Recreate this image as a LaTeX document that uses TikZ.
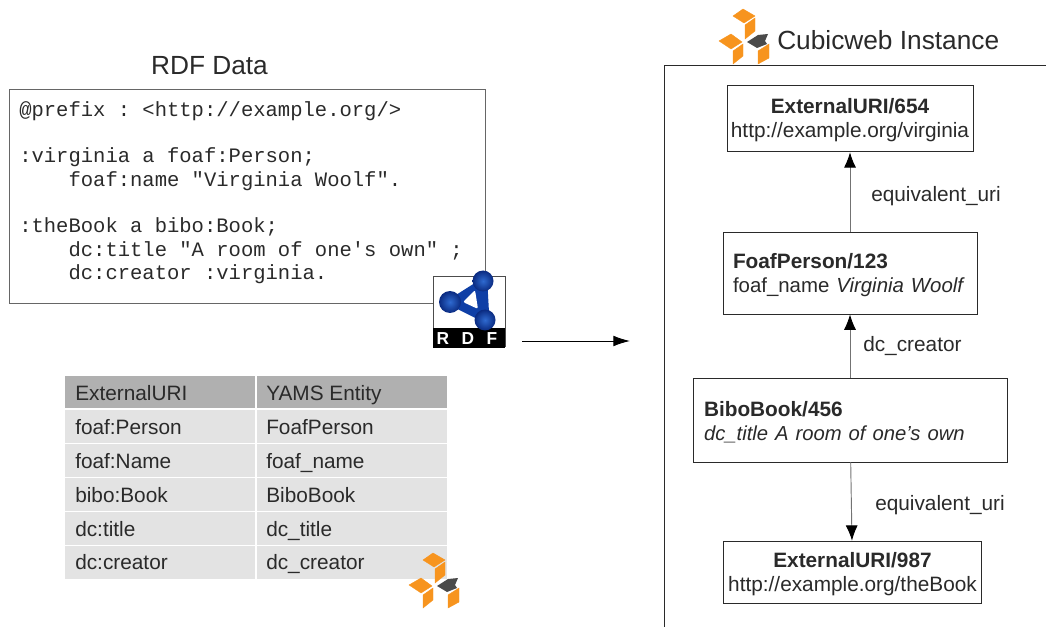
\documentclass[tikz,border=0pt]{standalone}
\usepackage{fontspec}
\setmainfont{Liberation Sans}
\setmonofont{Liberation Mono}
\usetikzlibrary{arrows.meta}
\definecolor{ink}{HTML}{2A2A2A}
\definecolor{cwo}{HTML}{F7941E}
\definecolor{cwd}{HTML}{4A4A4A}
\definecolor{rdfb}{HTML}{0F3FA6}
\definecolor{rdfl}{HTML}{2F6AD0}
\definecolor{rdfk}{HTML}{0A2A80}
\newcommand{\toprule}{\rule{0pt}{14pt}}
\tikzset{
  body/.style={font=\fontsize{15.6}{18}\selectfont,text=ink},
  title/.style={font=\fontsize{19.7}{22}\selectfont,text=ink},
  entity/.style={draw=ink,line width=0.65pt,fill=white,inner sep=0pt,body,align=center},
  entityl/.style={entity,align=left},
  rel/.style={draw=black!55,line width=0.7pt,-{Latex[length=11.5pt,width=9pt,black]}},
  cell/.style={anchor=north west,inner sep=0pt},
  hdr/.style={cell,fill=black!31},
  row/.style={cell,fill=black!11},
  celltext/.style={body,anchor=base west,inner sep=0pt},
  cube/.style={fill=cwo,draw=cwo,line width=0.3pt},
  cwlogo/.pic={
    \path[cube] (0,0)--(12,7)--(1,14)--(-10,7)--cycle;
    \path[cube] (12,9)--(12,22)--(2,30)--(2,16)--cycle;
    \path[cube] (-12,25)--(-1,33)--(-12,40)--(-24,32)--cycle;
    \path[cube] (0,35)--(0,47)--(-10,55)--(-10,42)--cycle;
    \path[cube] (26,35)--(26,49)--(15,55)--(15,42)--cycle;
    \fill[cwd] (4,33)--(15,26)--(25,25)--(22,32)--(24,35)--(14,39)--cycle;
  }
}
\begin{document}
\begin{tikzpicture}[x=0.75pt,y=-0.75pt]
\useasboundingbox (0,0) rectangle (1046,627);

% left: RDF data
\node[title] (rdftitle) at (209.5,65.5) {RDF Data};
\node[draw=black!60,line width=0.65pt,minimum width=357pt,minimum height=160pt,inner sep=0pt] (code) at (247,196.5) {};
\node[anchor=north west,inner sep=0pt,align=left,text=ink,font=\ttfamily\fontsize{15.4}{17.5}\selectfont] (codetext) at (19,101) {%
@prefix : <http://example.org/>\\
\strut\\
:virginia a foaf:Person;\\
\hspace*{2.4em}foaf:name "Virginia Woolf".\\
\strut\\
:theBook a bibo:Book;\\
\hspace*{2.4em}dc:title "A room of one's own" ;\\
\hspace*{2.4em}dc:creator :virginia.};

% RDF logo
\node[draw=black!70,fill=white,line width=0.7pt,minimum width=54pt,minimum height=53pt,inner sep=0pt] (rdflogo) at (469,311.5) {};
\fill[black] (433,328) rectangle (505,347.5);
\filldraw[rdfb,line width=6.5pt,line join=round] (483,283)--(453,302)--(485,318)--cycle;
\fill[white,rounded corners=1.5pt] (463,302)--(475,290)--(478,309)--cycle;
\shade[inner color=rdfl,outer color=rdfk] (483,281) circle[radius=10.5];
\shade[inner color=rdfl,outer color=rdfk] (450,302) circle[radius=11];
\shade[inner color=rdfl,outer color=rdfk] (485,320) circle[radius=10.5];
\node[font=\bfseries\fontsize{13}{13}\selectfont,text=white,inner sep=0pt] (rdfr) at (443,339) {R};
\node[font=\bfseries\fontsize{13}{13}\selectfont,text=white,inner sep=0pt] (rdfd) at (468,339) {D};
\node[font=\bfseries\fontsize{13}{13}\selectfont,text=white,inner sep=0pt] (rdff) at (492,339) {F};

% main arrow
\coordinate (arrowstart) at (522,341);
\coordinate (arrowend) at (630,341);
\draw[black,line width=0.65pt,-{Latex[length=12.5pt,width=8pt]}] (arrowstart) -- (arrowend);

% table
\node[hdr,minimum width=142.5pt,minimum height=24pt] (h1) at (65,376) {};
\node[hdr,minimum width=142.5pt,minimum height=24pt] (h2) at (257,376) {};
\foreach \y/\a/\b in {410/r1a/r1b,444/r2a/r2b,478/r3a/r3b,512/r4a/r4b,546/r5a/r5b}{
  \node[row,minimum width=142.5pt,minimum height=24.4pt] (\a) at (65,\y) {};
  \node[row,minimum width=142.5pt,minimum height=24.4pt] (\b) at (257,\y) {};
}
\foreach \y/\a/\b/\n in {400/ExternalURI/YAMS Entity/ht,434/foaf:Person/FoafPerson/t1,468/foaf:Name/foaf\_name/t2,502/bibo:Book/BiboBook/t3,536/dc:title/dc\_title/t4,569.5/dc:creator/dc\_creator/t5}{
  \node[celltext] (\n a) at (75,\y) {\a};
  \node[celltext] (\n b) at (266,\y) {\b};
}
\pic at (433,553) {cwlogo};

% right: instance
\pic at (743,9) {cwlogo};
\node[title,anchor=west,inner sep=0pt] (insttitle) at (777,40) {Cubicweb Instance};
\coordinate (instbl) at (664,627);
\coordinate (insttl) at (664,65);
\coordinate (insttr) at (1046,65);
\draw[ink,line width=0.65pt] (instbl) -- (insttl) -- (insttr);

\node[entity,minimum width=184.5pt,minimum height=50pt] (uria) at (850,118.5) {\toprule\textbf{ExternalURI/654}\\http://example.org/virginia};
\node[entityl,minimum width=190.5pt,minimum height=61.5pt,text width=175.5pt] (foaf) at (850,273) {\toprule\textbf{FoafPerson/123}\\{\fontsize{15.3}{18}\selectfont foaf\_name \textit{Virginia Woolf}}};
\node[entityl,minimum width=235.5pt,minimum height=63pt,text width=219pt] (bibo) at (850,420) {\toprule\textbf{BiboBook/456}\\{\fontsize{15.2}{18}\selectfont\textit{dc\_title A room of one's own}}};
\node[entity,minimum width=194pt,minimum height=47pt] (urib) at (852.5,572.5) {\toprule\textbf{ExternalURI/987}\\http://example.org/theBook};

\draw[rel] (foaf) -- (uria);
\draw[rel] (bibo) -- (foaf);
\draw[rel] (bibo) -- (urib);

\node[body,anchor=west,inner sep=0pt] (l1) at (871,196.5) {equivalent\_uri};
\node[body,anchor=west,inner sep=0pt] (l2) at (863,346) {dc\_creator};
\node[body,anchor=west,inner sep=0pt] (l3) at (875,505) {equivalent\_uri};
\end{tikzpicture}
\end{document}
